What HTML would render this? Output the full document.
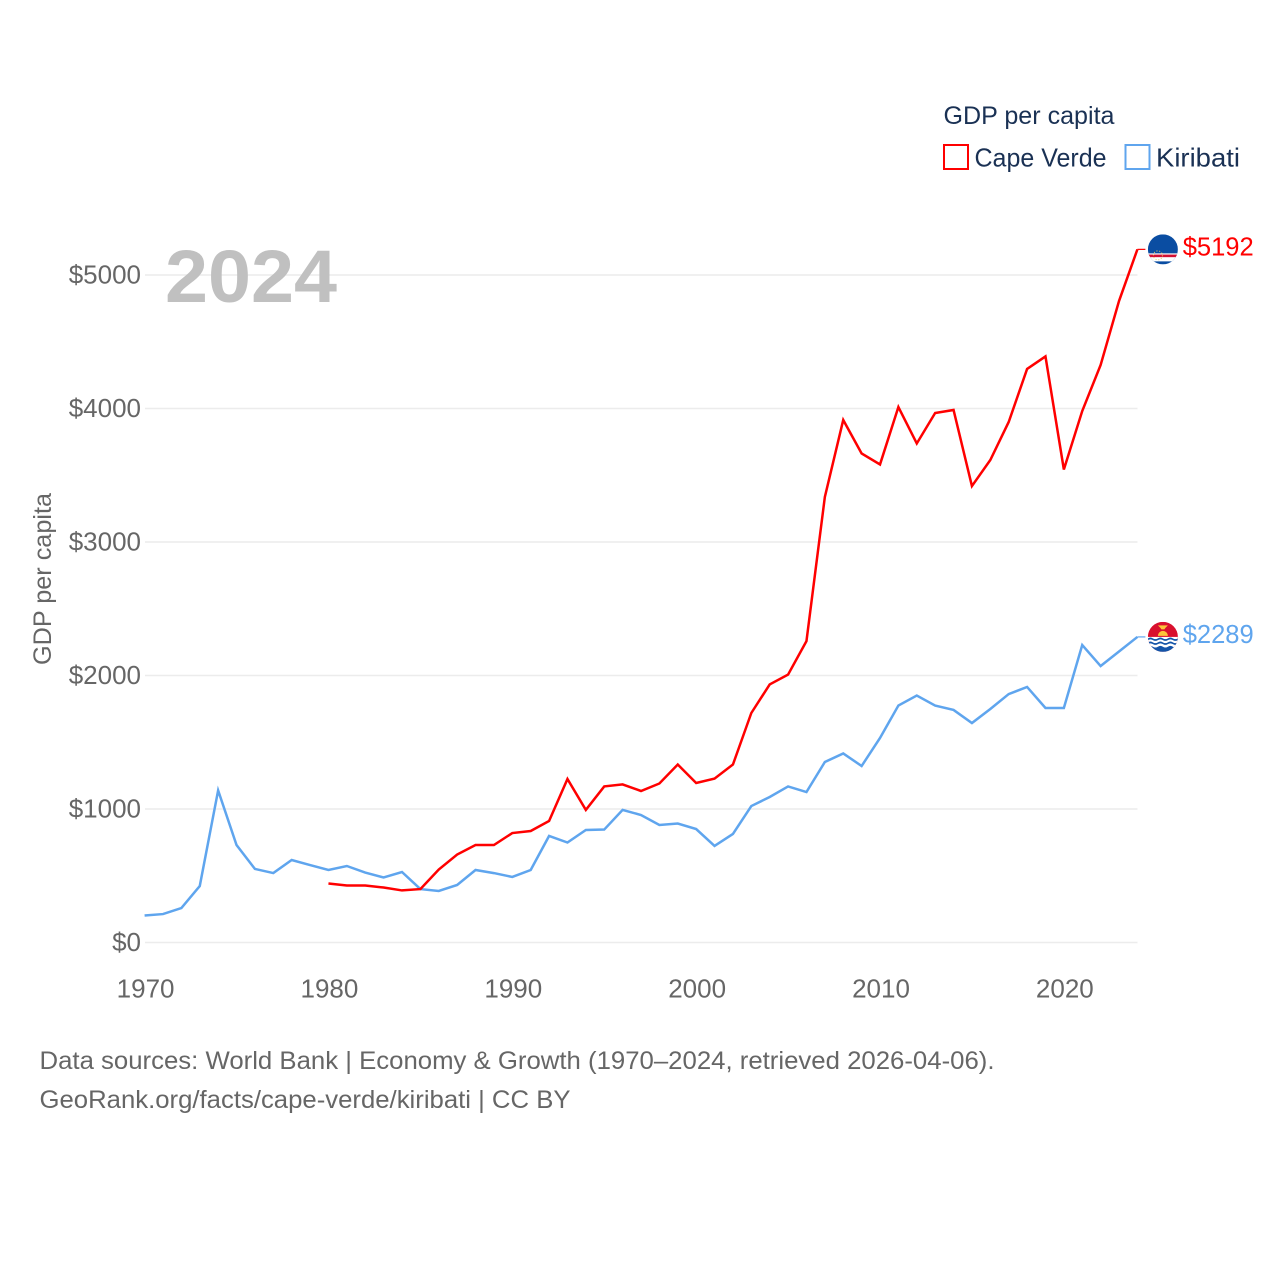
<!DOCTYPE html>
<html lang="en">
<head>
<meta charset="utf-8">
<title>GDP per capita: Cape Verde and Kiribati</title>
<style>
html,body{margin:0;padding:0;background:#fff;}
svg{display:block;}
text{font-family:"Liberation Sans",Arial,sans-serif;}
</style>
</head>
<body>
<svg id="chart" xmlns="http://www.w3.org/2000/svg" width="1280" height="1280" viewBox="0 0 1280 1280">
  <defs>
    <clipPath id="flag-clip"><circle cx="0" cy="0" r="15"></circle></clipPath>
  </defs>
  <rect width="1280" height="1280" fill="#ffffff"></rect>
  <g id="grid"></g>
  <g id="y-ticks"></g>
  <g id="x-ticks"></g>
  <text x="165" y="302" font-size="74" font-weight="700" fill="#c0c0c0" textLength="172" lengthAdjust="spacingAndGlyphs">2024</text>
  <text transform="translate(51,579) rotate(-90)" text-anchor="middle" font-size="25" fill="#666666" textLength="172" lengthAdjust="spacingAndGlyphs">GDP per capita</text>
  <g id="series"></g>

  <g id="flag-cape-verde" clip-path="url(#flag-clip)">
    <rect x="-15" y="-15" width="30" height="30" fill="#0a4da2"></rect>
    <rect x="-15" y="4" width="30" height="8" fill="#ffffff"></rect>
    <rect x="-15" y="5.2" width="30" height="2.6" fill="#d21034"></rect>
    <circle cx="-5" cy="6" r="4.5" fill="none" stroke="#e8c95a" stroke-width="1" stroke-dasharray="1 1.8"></circle>
  </g>
  <g id="flag-kiribati" clip-path="url(#flag-clip)">
    <rect x="-15" y="-15" width="30" height="30" fill="#d9102e"></rect>
    <path d="M-5 -1 A5 5 0 0 1 5 -1 Z" fill="#fcc43a"></path>
    <path d="M-5 -11.5 L5 -11.5 L2.5 -9 L1.5 -7.5 L-1.5 -7.5 L-2.5 -9 Z" fill="#fcc43a"></path>
    <rect x="-15" y="0" width="30" height="15" fill="#ffffff"></rect>
    <path d="M-15 1.4 q2.5 -1.6 5 0 t5 0 t5 0 t5 0 t5 0 t5 0 V3.2 q-2.5 1.6 -5 0 t-5 0 t-5 0 t-5 0 t-5 0 t-5 0 Z" fill="#1454a8"></path>
    <path d="M-15 5.4 q2.5 -1.6 5 0 t5 0 t5 0 t5 0 t5 0 t5 0 V7.2 q-2.5 1.6 -5 0 t-5 0 t-5 0 t-5 0 t-5 0 t-5 0 Z" fill="#1454a8"></path>
    <path d="M-15 9.8 q2.5 -1.6 5 0 t5 0 t5 0 t5 0 t5 0 t5 0 V15 H-15 Z" fill="#1454a8"></path>
  </g>
  <g id="end-labels"></g>

  <g>
    <text x="943.5" y="124" font-size="25" fill="#1a3154" textLength="171" lengthAdjust="spacingAndGlyphs">GDP per capita</text>
    <g>
      <rect x="944" y="145" width="24" height="24" fill="#ffffff" stroke="#ff0000" stroke-width="2"></rect>
      <text x="974.5" y="166.5" font-size="26" fill="#1a3154" textLength="132" lengthAdjust="spacingAndGlyphs">Cape Verde</text>
    </g>
    <g>
      <rect x="1125.5" y="145" width="24" height="24" fill="#ffffff" stroke="#5fa5ee" stroke-width="2"></rect>
      <text x="1156" y="166.5" font-size="26" fill="#1a3154" textLength="84" lengthAdjust="spacingAndGlyphs">Kiribati</text>
    </g>
  </g>

  <text x="39.5" y="1069" font-size="25" fill="#666666" textLength="955" lengthAdjust="spacingAndGlyphs">Data sources: World Bank | Economy &amp; Growth (1970–2024, retrieved 2026-04-06).</text>
  <text x="39.5" y="1108" font-size="25" fill="#666666" textLength="531" lengthAdjust="spacingAndGlyphs">GeoRank.org/facts/cape-verde/kiribati | CC BY</text>
</svg>

<script>
const years = [1970,1971,1972,1973,1974,1975,1976,1977,1978,1979,1980,1981,1982,1983,1984,1985,1986,1987,1988,1989,1990,1991,1992,1993,1994,1995,1996,1997,1998,1999,2000,2001,2002,2003,2004,2005,2006,2007,2008,2009,2010,2011,2012,2013,2014,2015,2016,2017,2018,2019,2020,2021,2022,2023,2024];
const capeVerdeValues = [null,null,null,null,null,null,null,null,null,null,442,427,427,412,390,400,547,659,730,730,820,835,910,1225,993,1169,1184,1135,1191,1333,1195,1228,1333,1719,1933,2007,2258,3337,3914,3663,3581,4011,3738,3966,3989,3419,3614,3899,4296,4390,3543,3981,4326,4805,5192];
const kiribatiValues = [202,213,258,423,1139,730,551,520,618,580,543,573,524,487,528,400,386,431,543,520,491,543,798,749,843,846,993,955,880,891,850,723,813,1022,1090,1169,1127,1352,1416,1322,1532,1775,1850,1775,1742,1644,1749,1861,1914,1757,1757,2228,2071,2180,2289];
const yTickValues = [0,1000,2000,3000,4000,5000];
const yTickLabels = ["$0","$1000","$2000","$3000","$4000","$5000"];
const xTickValues = [1970,1980,1990,2000,2010,2020];
const xTickLabels = ["1970","1980","1990","2000","2010","2020"];

const NS = "http://www.w3.org/2000/svg";
const xScale = function (year) { return 144.6 + (year - 1970) * (992.8 / 54); };
const yScale = function (value) { return 942.5 - value * 0.1335; };

function make(tag, parent, attrs, text) {
  const el = document.createElementNS(NS, tag);
  Object.keys(attrs).forEach(function (k) { el.setAttribute(k, attrs[k]); });
  if (text !== undefined) el.textContent = text;
  parent.appendChild(el);
  return el;
}

const gridGroup = document.getElementById("grid");
const yTickGroup = document.getElementById("y-ticks");
yTickValues.forEach(function (v, i) {
  const line = make("line", gridGroup, {x1: 145, x2: 1137.5, y1: yScale(v), y2: yScale(v), stroke: "#ececec", "stroke-width": 1.4});
  
  
  const label = make("text", yTickGroup, {x: 141, y: yScale(v) + 8.5, "text-anchor": "end", "font-size": 26, fill: "#666666"}, yTickLabels[i]);
  
  
});

const xTickGroup = document.getElementById("x-ticks");
xTickValues.forEach(function (v, i) {
  const label = make("text", xTickGroup, {x: xScale(v) + 1, y: 997.5, "text-anchor": "middle", "font-size": 26, fill: "#666666"}, xTickLabels[i]);
  
  
});

function linePath(values) {
  let d = "";
  values.forEach(function (v, i) {
    if (v === null) return;
    d += (d === "" ? "M" : "L") + xScale(years[i]).toFixed(2) + " " + yScale(v).toFixed(2);
  });
  return d;
}

const seriesGroup = document.getElementById("series");
const labelGroup = document.getElementById("end-labels");
function drawSeries(values, color, lineName, connectorName, labelName, flagId) {
  const line = make("path", seriesGroup, {d: linePath(values), fill: "none", stroke: color, "stroke-width": 2.5, "stroke-linejoin": "miter"});
  
  
  const last = values[values.length - 1];
  const lastX = xScale(years[years.length - 1]);
  const lastY = yScale(last);
  const connector = make("line", seriesGroup, {x1: lastX, x2: lastX + 8, y1: lastY, y2: lastY, stroke: color, "stroke-width": 1.2});
  
  
  const label = make("text", labelGroup, {x: lastX + 45.3, y: lastY + 6, "font-size": 26, fill: color, textLength: 71, lengthAdjust: "spacingAndGlyphs"}, "$" + last);
  
  
  document.getElementById(flagId).setAttribute("transform", "translate(" + (lastX + 25.5) + "," + lastY + ")");
}

drawSeries(kiribatiValues, "#5fa5ee", "kiribati-line", "kiribati-connector", "kiribati-end-value", "flag-kiribati");
drawSeries(capeVerdeValues, "#ff0000", "cape-verde-line", "cape-verde-connector", "cape-verde-end-value", "flag-cape-verde");
</script>
</body>
</html>
